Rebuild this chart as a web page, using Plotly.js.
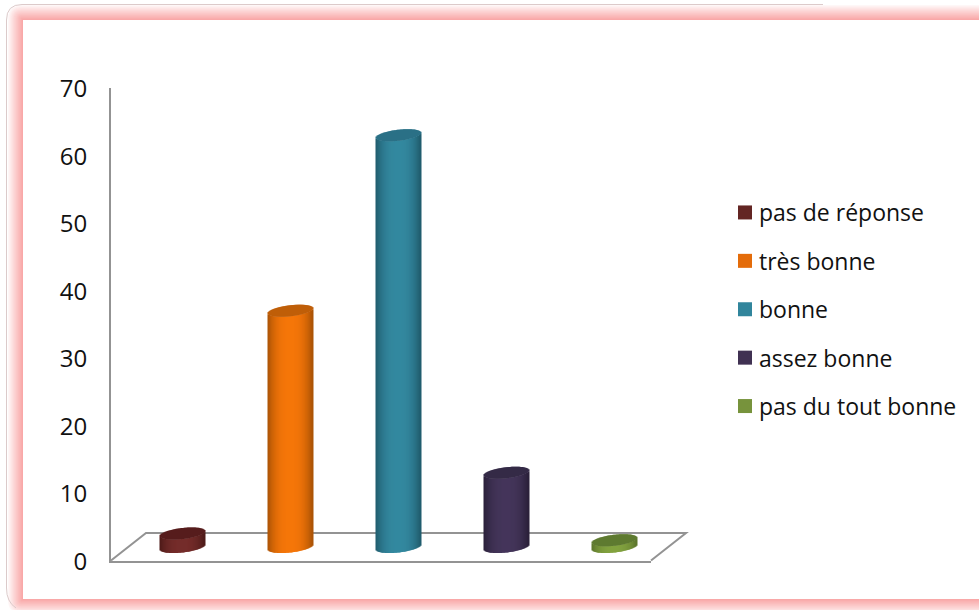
<!DOCTYPE html>
<html>
<head>
<meta charset="utf-8">
<script src="https://cdn.plot.ly/plotly-3.0.1.min.js"></script>
<style>html,body{margin:0;padding:0;background:#fff;overflow:hidden}</style>
</head>
<body>
<div id="chart" style="width:979px;height:610px"></div>
<script>
// Survey answers, one cylinder per category
const categories = ['pas de réponse', 'très bonne', 'bonne', 'assez bonne', 'pas du tout bonne'];
const values = [2, 35, 61, 11, 1];
const swatchColors = ['#632523', '#e46c0a', '#31859c', '#403152', '#77933c'];
const lightColors = ['#752c2a', '#f57608', '#33889f', '#44355a', '#82a23f'];
const darkColors = ['#4c1a18', '#a85206', '#1f5a6b', '#2a2038', '#5b732b'];
const capColors = ['#561d1c', '#bf5e09', '#2a7086', '#352a47', '#5f7a30'];
const yTicks = [0, 10, 20, 30, 40, 50, 60, 70];

const W = 979, H = 610;
const px = v => v / W;
const py = v => 1 - v / H;

// Plot geometry, in pixels
const axisLeft = 111, axisRight = 651, axisBottom = 560.5, axisTop = 88;
const unitPx = (axisBottom - axisTop) / 70;
const depthX = 17.5, depthY = 13.5;
const catPx = (axisRight - axisLeft) / 5;
const radiusPx = 22.5, capPx = 5.5, tiltPx = 2.5;

function mix(a, b, t) {
  const ch = (c, i) => parseInt(c.substr(1 + 2 * i, 2), 16);
  const out = [0, 1, 2].map(i => Math.round(ch(a, i) + (ch(b, i) - ch(a, i)) * t));
  return 'rgb(' + out.join(',') + ')';
}

// Each cylinder is a run of one-pixel bars: a shaded wall and a darker cap
const traces = [];
categories.forEach((name, k) => {
  const wall = { x: [], y: [], base: [], width: [], colors: [] };
  const cap = { x: [], y: [], base: [], width: [] };
  const steps = Math.round(radiusPx * 2);
  for (let i = 0; i < steps; i++) {
    const u = (i + 0.5) / steps * 2 - 1;
    const arc = Math.sqrt(1 - u * u) * capPx / unitPx;
    const lean = u * tiltPx / unitPx;
    const xPos = k + u * radiusPx / catPx;
    wall.x.push(xPos);
    wall.base.push(lean - arc);
    wall.y.push(values[k]);
    wall.width.push(1.2 / catPx);
    wall.colors.push(mix(lightColors[k], darkColors[k], Math.pow(Math.abs(u), 2.6)));
    cap.x.push(xPos);
    cap.base.push(values[k] + lean - arc);
    cap.y.push(2 * arc);
    cap.width.push(1.2 / catPx);
  }
  traces.push({
    type: 'bar', xaxis: 'x2', yaxis: 'y2', x: wall.x, y: wall.y, base: wall.base, width: wall.width,
    marker: { color: wall.colors, opacity: 1, line: { width: 0 } }, showlegend: false, hoverinfo: 'skip'
  });
  traces.push({
    type: 'bar', xaxis: 'x2', yaxis: 'y2', x: cap.x, y: cap.y, base: cap.base, width: cap.width,
    marker: { color: capColors[k], opacity: 1, line: { width: 0 } }, showlegend: false, hoverinfo: 'skip'
  });
});

// Legend entries
categories.forEach((name, k) => {
  traces.push({
    type: 'scatter', mode: 'markers', x: [null], y: [null], name: name, legendgroup: name,
    xaxis: 'x', yaxis: 'y',
    marker: { symbol: 'square', size: 14, color: swatchColors[k], line: { width: 0 } }
  });
});

// Soft pink frame with a rounded outer edge, running off the right side
const shapes = [];
function roundedRect(x0, y0, x1, y1, r) {
  const X = v => px(v), Y = v => py(v);
  return 'M' + X(x0 + r) + ',' + Y(y0) + ' L' + X(x1) + ',' + Y(y0) + ' L' + X(x1) + ',' + Y(y1) +
    ' L' + X(x0 + r) + ',' + Y(y1) +
    ' Q' + X(x0) + ',' + Y(y1) + ' ' + X(x0) + ',' + Y(y1 - r) +
    ' L' + X(x0) + ',' + Y(y0 + r) +
    ' Q' + X(x0) + ',' + Y(y0) + ' ' + X(x0 + r) + ',' + Y(y0) + ' Z';
}
const bandSteps = 15;
for (let i = 0; i < bandSteps; i++) {
  const t = Math.pow((i + 1) / bandSteps, 0.9);
  shapes.push({
    type: 'path', xref: 'paper', yref: 'paper', layer: 'below', line: { width: 0 },
    fillcolor: mix('#ffffff', '#f9a8a8', t),
    path: roundedRect(8 + i, 5 + i, 1010, 614 - i, Math.max(14 - i, 0))
  });
}
shapes.push({
  type: 'rect', xref: 'paper', yref: 'paper', layer: 'below', line: { width: 0 }, fillcolor: '#ffffff',
  x0: px(23), x1: px(1010), y0: py(599), y1: py(20)
});
// Thin outline outside the glow
shapes.push({
  type: 'path', xref: 'paper', yref: 'paper', layer: 'below', line: { width: 1, color: '#dccaca' },
  path: 'M' + px(823) + ',' + py(4.5) + ' L' + px(22) + ',' + py(4.5) +
    ' Q' + px(6.5) + ',' + py(4.5) + ' ' + px(6.5) + ',' + py(20) +
    ' L' + px(6.5) + ',' + py(588) + ' Q' + px(6.5) + ',' + py(602) + ' ' + px(16) + ',' + py(608)
});
// Chart floor
const floorColor = '#939393';
shapes.push({
  type: 'path', xref: 'paper', yref: 'paper', layer: 'below', line: { width: 2, color: floorColor },
  path: 'M' + px(axisLeft) + ',' + py(axisBottom) + ' L' + px(146) + ',' + py(533) + ' L' + px(686) + ',' + py(533) +
    ' L' + px(axisRight) + ',' + py(axisBottom)
});

const layout = {
  width: W, height: H,
  margin: { l: 0, r: 0, t: 0, b: 0 },
  paper_bgcolor: '#ffffff', plot_bgcolor: 'rgba(0,0,0,0)',
  font: { family: '"Open Sans", sans-serif', size: 23, color: '#111111' },
  barmode: 'overlay', showlegend: true, hovermode: false, dragmode: false,
  xaxis: {
    domain: [px(axisLeft), px(axisRight)], range: [-0.5, 4.5], anchor: 'y',
    showline: true, linecolor: floorColor, linewidth: 2, showgrid: false, zeroline: false, showticklabels: false, ticks: ''
  },
  yaxis: {
    domain: [py(axisBottom), py(axisTop)], range: [0, 70], anchor: 'x',
    tickmode: 'array', tickvals: yTicks, ticktext: yTicks.map(String),
    showline: true, linecolor: floorColor, linewidth: 2, showgrid: false, zeroline: false, ticks: '',
    ticklabelstandoff: 17, ticklabelshift: 1, tickfont: { size: 24 }
  },
  xaxis2: {
    domain: [px(axisLeft + depthX), px(axisRight + depthX)], range: [-0.5, 4.5], anchor: 'y2',
    visible: false, fixedrange: true
  },
  yaxis2: {
    domain: [py(axisBottom - depthY + 3 * unitPx), py(axisTop - depthY)], range: [-3, 70], anchor: 'x2',
    visible: false, fixedrange: true
  },
  legend: {
    x: px(719), y: py(191), xanchor: 'left', yanchor: 'top', bgcolor: 'rgba(0,0,0,0)',
    tracegroupgap: 15.5, itemclick: false, itemdoubleclick: false, font: { size: 23 }
  },
  shapes: shapes
};

Plotly.newPlot('chart', traces, layout, { displayModeBar: false }).then(() => {
  // Tuck the swatches closer to their labels
  document.querySelectorAll('.legend .legendsymbols').forEach(el => {
    el.setAttribute('transform', 'translate(6,0)');
  });
});
</script>
</body>
</html>
